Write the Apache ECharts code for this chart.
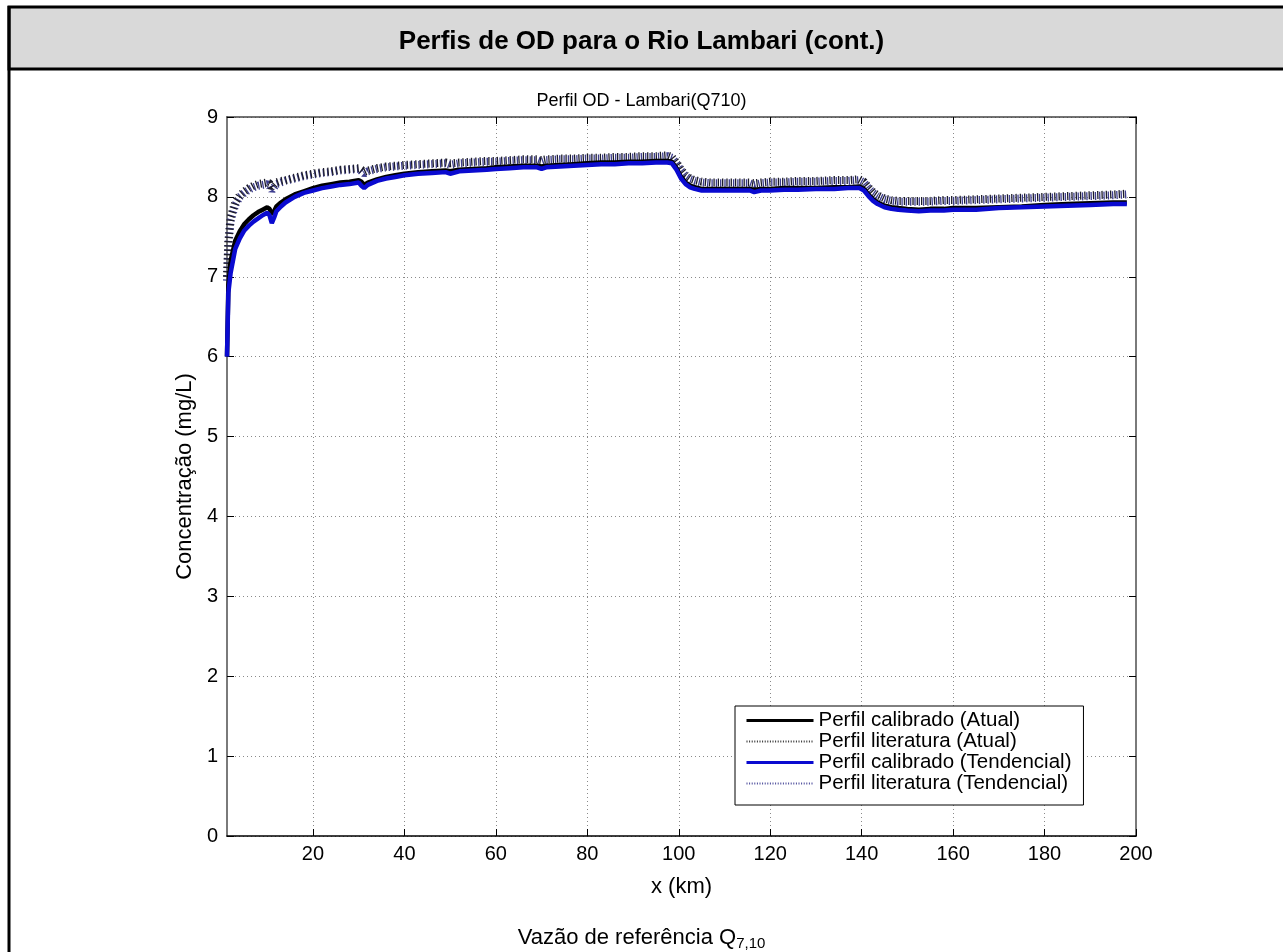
<!DOCTYPE html>
<html>
<head>
<meta charset="utf-8">
<style>
html,body{margin:0;padding:0;background:#fff;}
#chart{width:1283px;height:952px;}
</style>
<script src="https://cdn.jsdelivr.net/npm/echarts@6/dist/echarts.min.js"></script>
</head>
<body>
<div id="chart"></div>
<script>
// ---- data ----
const xKm = [1.2,1.5,2,3,4,5,6,7,8,9,10,10.5,11,11.5,12,13,14,16,18,20,22,24,26,28,30,30.6,31.2,32,34,36,38,40,43,46,49,50,52,55,58,60,63,66,69,70,71,74,77,80,83,86,89,92,95,97.5,98.5,99.5,100.5,101.5,102.5,103.5,105,107,110,113,115.5,116.5,118,120,123,126,130,134,137,139.5,140.5,141.5,142.5,143.5,145,146.5,148,150,152.5,155,158,160,165,170,175,180,185,190,195,198];

const calAtual = [6.0,6.9,7.2,7.45,7.57,7.66,7.72,7.77,7.81,7.84,7.87,7.85,7.78,7.82,7.88,7.93,7.97,8.03,8.07,8.11,8.14,8.16,8.18,8.19,8.21,8.19,8.15,8.18,8.22,8.25,8.27,8.29,8.31,8.32,8.33,8.32,8.34,8.35,8.36,8.37,8.38,8.39,8.39,8.38,8.39,8.40,8.41,8.42,8.43,8.43,8.44,8.44,8.45,8.45,8.44,8.36,8.25,8.18,8.14,8.12,8.10,8.10,8.10,8.10,8.10,8.09,8.10,8.10,8.11,8.11,8.11,8.12,8.12,8.13,8.10,8.03,7.97,7.93,7.89,7.87,7.86,7.85,7.84,7.85,7.85,7.86,7.86,7.87,7.88,7.90,7.91,7.92,7.93,7.93];

const litAtual = [7.0,7.45,7.75,7.93,8.02,8.07,8.11,8.14,8.16,8.17,8.18,8.17,8.12,8.15,8.18,8.20,8.21,8.24,8.27,8.29,8.31,8.32,8.34,8.35,8.36,8.34,8.31,8.33,8.36,8.38,8.39,8.40,8.41,8.42,8.43,8.42,8.43,8.44,8.45,8.45,8.46,8.47,8.47,8.46,8.47,8.48,8.48,8.49,8.49,8.50,8.50,8.51,8.51,8.52,8.50,8.43,8.34,8.27,8.23,8.21,8.19,8.18,8.18,8.18,8.18,8.17,8.18,8.19,8.19,8.20,8.20,8.21,8.21,8.22,8.19,8.12,8.06,8.02,7.98,7.96,7.95,7.95,7.95,7.95,7.96,7.96,7.97,7.98,7.99,8.00,8.01,8.02,8.03,8.04];

const calTend = [6.0,6.8,7.05,7.35,7.48,7.58,7.64,7.69,7.73,7.77,7.80,7.77,7.67,7.74,7.82,7.88,7.93,8.00,8.05,8.08,8.11,8.13,8.15,8.16,8.18,8.14,8.11,8.15,8.20,8.23,8.25,8.27,8.29,8.30,8.31,8.29,8.32,8.33,8.34,8.35,8.36,8.37,8.37,8.35,8.37,8.38,8.39,8.40,8.41,8.41,8.42,8.42,8.43,8.43,8.42,8.34,8.23,8.16,8.12,8.10,8.08,8.08,8.08,8.08,8.08,8.06,8.08,8.08,8.09,8.09,8.10,8.10,8.11,8.11,8.08,8.01,7.95,7.91,7.87,7.85,7.84,7.83,7.82,7.83,7.83,7.84,7.84,7.86,7.87,7.88,7.89,7.90,7.91,7.91];

const litTend = [6.95,7.4,7.7,7.9,8.0,8.05,8.09,8.12,8.14,8.15,8.16,8.14,8.08,8.12,8.16,8.18,8.20,8.23,8.26,8.28,8.30,8.31,8.33,8.34,8.35,8.32,8.29,8.32,8.35,8.37,8.38,8.39,8.40,8.41,8.42,8.40,8.42,8.43,8.44,8.44,8.45,8.46,8.46,8.44,8.46,8.47,8.47,8.48,8.48,8.49,8.49,8.50,8.50,8.51,8.49,8.42,8.33,8.26,8.22,8.20,8.18,8.17,8.17,8.17,8.17,8.15,8.17,8.18,8.18,8.19,8.19,8.20,8.20,8.21,8.18,8.11,8.05,8.01,7.97,7.95,7.94,7.94,7.94,7.94,7.95,7.95,7.96,7.97,7.98,7.99,8.00,8.01,8.02,8.03];

const xTicks = [20,40,60,80,100,120,140,160,180,200];
const xGrid = [20,40,60,80,100,120,140,160,180];
const seriesNames = ['Perfil calibrado (Atual)','Perfil literatura (Atual)','Perfil calibrado (Tendencial)','Perfil literatura (Tendencial)'];
const headerText = 'Perfis de OD para o Rio Lambari (cont.)';
const chartTitle = 'Perfil OD - Lambari(Q710)';
const xName = 'x (km)';
const yName = 'Concentração (mg/L)';

const pairs = arr => xKm.map((x, i) => [x, arr[i]]);
const FONT = 'Liberation Sans, Arial, sans-serif';

const chart = echarts.init(document.getElementById('chart'), null, {renderer: 'canvas'});

const hatch = (color) => ({color: color, width: 8, type: [1.3, 3], cap: 'butt'});
const noMark = {color: 'rgba(0,0,0,0)', borderWidth: 0, opacity: 0};

const option = {
  animation: false,
  backgroundColor: '#fff',
  textStyle: {fontFamily: FONT},
  title: [
    {text: headerText, left: 'center', top: 24,
     textStyle: {fontFamily: FONT, fontSize: 26, fontWeight: 'bold', color: '#000'}},
    {text: chartTitle, left: 'center', top: 87,
     textStyle: {fontFamily: FONT, fontSize: 18, fontWeight: 'normal', color: '#000'}},
    {text: 'Vazão de referência Q{sub|7,10}', left: 'center', top: 920,
     textStyle: {fontFamily: FONT, fontSize: 22, fontWeight: 'normal', color: '#000', lineHeight: 26,
       rich: {sub: {fontFamily: FONT, fontSize: 15, lineHeight: 15, verticalAlign: 'bottom', color: '#000'}}}}
  ],
  graphic: [
    {type: 'rect', z: -10, shape: {x: 9, y: 7, width: 1290, height: 62},
     style: {fill: '#d9d9d9', stroke: '#000', lineWidth: 3}},
    {type: 'line', z: -10, shape: {x1: 9, y1: 6, x2: 9, y2: 960},
     style: {stroke: '#000', lineWidth: 3}}
  ],
  grid: {left: 227, right: 147, top: 117, bottom: 116, containLabel: false},
  legend: {
    orient: 'vertical', left: 735, top: 706,
    itemWidth: 67, itemHeight: 14, itemGap: 0,
    padding: [4, 12, 11, 10],
    backgroundColor: '#fff', borderColor: '#000', borderWidth: 1,
    textStyle: {fontFamily: FONT, fontSize: 20.5, lineHeight: 21, color: '#000'},
    itemStyle: noMark,
    data: [
      {name: seriesNames[0], itemStyle: noMark, lineStyle: {color: '#000', width: 3, type: 'solid'}},
      {name: seriesNames[1], itemStyle: noMark, lineStyle: {color: '#333', width: 2, type: [1, 1.6]}},
      {name: seriesNames[2], itemStyle: noMark, lineStyle: {color: '#0a0ad0', width: 3, type: 'solid'}},
      {name: seriesNames[3], itemStyle: noMark, lineStyle: {color: '#4a4a9a', width: 2, type: [1, 1.6]}}
    ]
  },
  xAxis: [
    {type: 'value', min: 1.2, max: 200, position: 'bottom',
     axisLine: {show: true, onZero: false, lineStyle: {color: '#000', width: 1.5}},
     axisTick: {show: true, inside: true, length: 7, customValues: xTicks, lineStyle: {color: '#000'}},
     axisLabel: {show: true, customValues: xTicks, margin: 8, fontFamily: FONT, fontSize: 20, color: '#000'},
     splitLine: {show: true, customValues: xGrid, lineStyle: {color: '#8a8a8a', width: 1, type: [1, 3]}},
     name: xName, nameLocation: 'middle', nameGap: 40,
     nameTextStyle: {fontFamily: FONT, fontSize: 22, color: '#000'}},
    {type: 'value', min: 1.2, max: 200, position: 'top',
     axisLine: {show: true, onZero: false, lineStyle: {color: '#444', width: 1.5}},
     axisTick: {show: true, inside: true, length: 7, customValues: xTicks, lineStyle: {color: '#000'}},
     axisLabel: {show: false},
     splitLine: {show: false}}
  ],
  yAxis: [
    {type: 'value', min: 0, max: 9, interval: 1, position: 'left',
     axisLine: {show: true, onZero: false, lineStyle: {color: '#7a7a7a', width: 2}},
     axisTick: {show: true, inside: true, length: 7, lineStyle: {color: '#000'}},
     axisLabel: {show: true, margin: 9, fontFamily: FONT, fontSize: 20, color: '#000'},
     splitLine: {show: true, lineStyle: {color: '#8a8a8a', width: 1, type: [1, 3]}},
     name: yName, nameLocation: 'middle', nameGap: 30, nameRotate: 90,
     nameTextStyle: {fontFamily: FONT, fontSize: 22, color: '#000'}},
    {type: 'value', min: 0, max: 9, interval: 1, position: 'right',
     axisLine: {show: true, onZero: false, lineStyle: {color: '#7a7a7a', width: 2}},
     axisTick: {show: true, inside: true, length: 7, lineStyle: {color: '#000'}},
     axisLabel: {show: false},
     splitLine: {show: false}}
  ],
  series: [
    {name: seriesNames[3], type: 'line', data: pairs(litTend), symbol: 'none', showSymbol: false,
     itemStyle: {color: '#3d3d8f'}, lineStyle: hatch('#3d3d8f'), z: 2},
    {name: seriesNames[1], type: 'line', data: pairs(litAtual), symbol: 'none', showSymbol: false,
     itemStyle: {color: '#1c1c2a'}, lineStyle: hatch('#1c1c2a'), z: 3},
    {name: seriesNames[0], type: 'line', data: pairs(calAtual), symbol: 'none', showSymbol: false,
     itemStyle: {color: '#000'}, lineStyle: {color: '#000', width: 4.5}, z: 4},
    {name: seriesNames[2], type: 'line', data: pairs(calTend), symbol: 'none', showSymbol: false,
     itemStyle: {color: '#0a0ad0'}, lineStyle: {color: '#0a0ad0', width: 4.5}, z: 5}
  ]
};
chart.setOption(option);
</script>
</body>
</html>
